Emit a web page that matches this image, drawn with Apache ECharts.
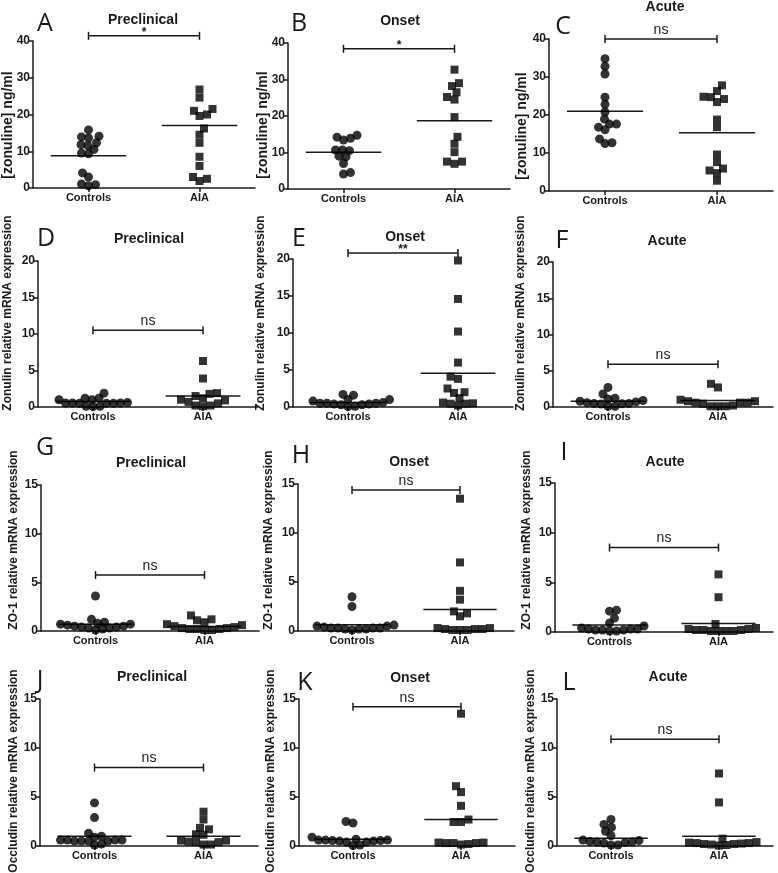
<!DOCTYPE html>
<html>
<head>
<meta charset="utf-8">
<script src="https://cdn.jsdelivr.net/npm/echarts@6/dist/echarts.min.js"></script>
<style>
  html, body { margin: 0; padding: 0; background: #fff; }
  #main { width: 778px; height: 873px; }
</style>
</head>
<body>
<div id="main"></div>
<script>
// groups and panel text
const groups = ['Controls', 'AIA']
const letters = ['A', 'B', 'C', 'D', 'E', 'F', 'G', 'H', 'I', 'J', 'K', 'L']
const stages = ['Preclinical', 'Onset', 'Acute']
const yNames = ['[zonuline] ng/ml', 'Zonulin relative mRNA expression', 'ZO-1 relative mRNA expression', 'Occludin relative mRNA expression']
const yMax = [40, 20, 15, 15]
const yStep = [10, 5, 5, 5]

// values per panel, A..L
const controls = [
  [15.8, 13.9, 13.6, 14.1, 12.3, 11.8, 11.5, 10.5, 9.3, 9.5, 4.1, 3.0, 1.1, 0.6, 0.9],
  [14.7, 13.9, 13.4, 14.2, 10.7, 10.5, 10.7, 8.8, 9.0, 7.0, 4.1, 4.5],
  [34.8, 32.8, 30.8, 24.7, 22.8, 20.8, 18.9, 17.6, 16.8, 16.1, 17.6, 13.7, 12.5, 12.7],
  [1.9, 1.2, 1.2, 1.0, 1.0, 0.6, 0.55, 0.55, 0.55, 0.5, 0.5, 0.5, 0.1, 0.1, 0.05],
  [1.7, 1.6, 1.0, 1.0, 0.8, 0.5, 0.5, 0.5, 0.4, 0.4, 0.3, 0.3, 0.6, 0.1, 0.05],
  [2.7, 1.8, 1.2, 1.1, 0.9, 0.8, 0.7, 0.6, 0.5, 0.5, 0.45, 0.4, 0.1, 0.1],
  [3.6, 1.2, 0.9, 0.8, 0.7, 0.7, 0.6, 0.5, 0.5, 0.4, 0.4, 0.3, 0.3, 0.2, 0.1],
  [3.5, 2.5, 0.6, 0.5, 0.5, 0.4, 0.3, 0.3, 0.3, 0.3, 0.2, 0.2, 0.2, 0.1],
  [2.2, 2.1, 1.4, 0.9, 0.6, 0.4, 0.3, 0.3, 0.3, 0.2, 0.2, 0.2, 0.1, 0.1],
  [4.4, 2.9, 1.3, 1.0, 0.9, 0.6, 0.6, 0.5, 0.5, 0.6, 0.6, 0.5, 0.5, 0.2, 0.1],
  [2.5, 2.35, 0.9, 0.7, 0.6, 0.6, 0.6, 0.55, 0.55, 0.5, 0.5, 0.4, 0.4, 0.1, 0.05],
  [2.7, 2.2, 1.9, 1.5, 1.05, 0.6, 0.55, 0.45, 0.4, 0.35, 0.3, 0.4, 0.1, 0.1]
]
const aia = [
  [26.8, 24.6, 21.0, 21.5, 19.6, 20.0, 16.2, 14.5, 12.3, 8.5, 6.0, 3.0, 1.9, 2.5],
  [32.7, 29.0, 28.2, 26.5, 24.5, 25.2, 19.7, 14.3, 12.4, 10.1, 7.5, 6.9, 7.5],
  [27.8, 26.3, 24.7, 24.2, 24.8, 23.4, 18.8, 16.8, 9.6, 7.6, 5.4, 4.7, 5.9, 2.7],
  [6.3, 3.9, 1.0, 0.7, 1.8, 1.2, 1.5, 1.9, 0.5, 0.9, 0.2, 0.1, 0.2],
  [19.8, 14.6, 10.2, 6.0, 3.8, 4.1, 2.0, 1.9, 2.5, 0.6, 0.45, 0.2, 0.45, 0.5, 1.2],
  [3.2, 2.7, 1.0, 0.8, 0.8, 0.6, 0.6, 0.6, 0.45, 0.2, 0.1, 0.1, 0.1],
  [1.6, 1.2, 1.1, 0.9, 0.7, 0.6, 0.5, 0.4, 0.3, 0.3, 0.2, 0.2, 0.2, 0.1, 0.1],
  [13.5, 7.0, 4.1, 3.2, 2.0, 1.8, 1.5, 0.3, 0.2, 0.2, 0.1, 0.1, 0.1, 0.2, 0.3],
  [5.8, 3.5, 0.8, 0.4, 0.3, 0.3, 0.2, 0.2, 0.2, 0.1, 0.1, 0.1, 0.1],
  [3.5, 2.7, 1.85, 1.7, 1.2, 1.15, 0.55, 0.45, 0.4, 0.15, 0.15, 0.4, 0.55],
  [13.5, 6.1, 5.5, 4.1, 2.7, 2.45, 2.45, 0.35, 0.3, 0.3, 0.15, 0.2, 0.3, 0.35],
  [7.4, 4.45, 0.75, 0.4, 0.35, 0.3, 0.3, 0.25, 0.2, 0.2, 0.15, 0.1, 0.05]
]
const meanControls = [8.8, 10.1, 21.0, 0.77, 0.6, 0.8, 0.7, 0.65, 0.7, 1.0, 0.7, 0.8]
const meanAia = [17.0, 18.7, 15.3, 1.5, 4.55, 0.9, 0.45, 2.2, 0.85, 1.0, 2.7, 1.0]
const sigLabels = ['*', '*', 'ns', 'ns', '**', 'ns', 'ns', 'ns', 'ns', 'ns', 'ns', 'ns']
const sigHeights = [41.4, 38.4, 40, 10.5, 20.8, 5.9, 5.75, 14.4, 8.5, 8.0, 14.2, 10.9]

// layout: [left, top, width, height] of each plot area
const boxes = [
  [33, 41, 222, 147], [288, 43, 222, 146], [549, 39, 224, 152],
  [38, 261, 220, 146], [293, 259, 220, 148], [553, 262, 220, 145],
  [41, 485, 218, 146], [298, 484, 216, 147], [555, 483, 218, 149],
  [40, 699, 218, 147], [299, 699, 216, 147], [557, 699, 216, 147]
]
const letterPos = [[45, 24], [299, 24], [563, 27], [46, 239], [299, 239], [562, 241],
  [45, 448], [301, 456], [564, 453], [40, 681], [305, 683], [569, 683]]
const titlePos = [[143, 20], [400, 21], [665, 7], [149, 239], [405, 237], [667, 241],
  [151, 463], [409, 462], [665, 462], [152, 677], [410, 678], [668, 677]]
const yNamePos = [[8, 125], [263, 125], [522, 126], [8, 313], [261, 313], [521, 313],
  [14, 540], [269, 540], [527, 540], [14, 771], [271, 771], [531, 771]]

const ink = '#1a1a1a'
const dot = '#000'
const font = '"Liberation Sans", Arial, sans-serif'

// spread points sideways so they do not overlap (beeswarm)
function swarm(vals, center, w, h, ymax, d) {
  const ux = w / 2, uy = h / ymax
  const order = vals.map((v, i) => i).sort((a, b) => vals[a] - vals[b])
  const placed = []
  const out = []
  order.forEach((i, k) => {
    const py = vals[i] * uy
    let best = null
    for (let s = 0; s <= 150 && best === null; s += 0.5) {
      const cands = s === 0 ? [0] : (k % 2 ? [s, -s] : [-s, s])
      for (const dx of cands) {
        if (placed.every(p => Math.hypot(p[0] - dx, p[1] - py) >= d)) { best = dx; break }
      }
    }
    placed.push([best, py])
    out[i] = [center + best / ux, vals[i]]
  })
  return out
}

const grid = [], xAxis = [], yAxis = [], series = [], graphic = []

boxes.forEach((b, i) => {
  const row = Math.floor(i / 3)
  grid.push({ left: b[0], top: b[1], width: b[2], height: b[3] })
  xAxis.push({
    gridIndex: i, type: 'value', min: 0, max: 2,
    axisLine: { lineStyle: { color: ink, width: 1.5 } },
    axisTick: { customValues: [0.5, 1.5], length: 4, lineStyle: { color: ink, width: 1.5 } },
    axisLabel: {
      customValues: [0.5, 1.5], formatter: v => (v < 1 ? groups[0] : groups[1]),
      color: ink, fontWeight: 'bold', fontSize: 11, fontFamily: font, margin: 4
    },
    splitLine: { show: false }
  })
  yAxis.push({
    gridIndex: i, type: 'value', min: 0, max: yMax[row], interval: yStep[row],
    axisLine: { show: true, lineStyle: { color: ink, width: 1.5 } },
    axisTick: { show: true, length: 4, lineStyle: { color: ink, width: 1.5 } },
    axisLabel: { color: ink, fontWeight: 'bold', fontSize: 12, fontFamily: font, margin: 3 },
    splitLine: { show: false }
  })

  series.push({
    type: 'scatter', xAxisIndex: i, yAxisIndex: i, clip: false,
    symbol: 'circle', symbolSize: 9, itemStyle: { color: dot },
    data: swarm(controls[i], 0.5, b[2], b[3], yMax[row], 7)
  })
  series.push({
    type: 'scatter', xAxisIndex: i, yAxisIndex: i, clip: false,
    symbol: 'rect', symbolSize: 8, itemStyle: { color: dot },
    data: swarm(aia[i], 1.5, b[2], b[3], yMax[row], 7.5)
  })
  // mean lines
  series.push({
    type: 'custom', xAxisIndex: i, yAxisIndex: i, clip: false,
    data: [[0.5, meanControls[i]], [1.5, meanAia[i]]],
    renderItem: (params, api) => {
      const a = api.coord([api.value(0) - 0.34, api.value(1)])
      const c = api.coord([api.value(0) + 0.34, api.value(1)])
      return { type: 'line', shape: { x1: a[0], y1: a[1], x2: c[0], y2: c[1] }, style: { stroke: ink, lineWidth: 1.5 } }
    }
  })
  // significance bracket
  const star = sigLabels[i] !== 'ns'
  series.push({
    type: 'custom', xAxisIndex: i, yAxisIndex: i, clip: false,
    data: [[0.5, 1.5, sigHeights[i]]],
    encode: { x: [0, 1], y: 2 },
    renderItem: (params, api) => {
      const p = api.coord([api.value(0), api.value(2)])
      const q = api.coord([api.value(1), api.value(2)])
      const st = { stroke: ink, lineWidth: 1.5 }
      return {
        type: 'group', children: [
          { type: 'line', shape: { x1: p[0], y1: p[1], x2: q[0], y2: q[1] }, style: st },
          { type: 'line', shape: { x1: p[0], y1: p[1] - 4, x2: p[0], y2: p[1] + 4 }, style: st },
          { type: 'line', shape: { x1: q[0], y1: q[1] - 4, x2: q[0], y2: q[1] + 4 }, style: st },
          {
            type: 'text', x: (p[0] + q[0]) / 2, y: star ? p[1] - 3 : p[1] - 2,
            style: {
              text: sigLabels[i], fill: ink, font: (star ? 'bold 12px ' : '14px ') + font,
              align: 'center', verticalAlign: star ? 'middle' : 'bottom'
            }
          }
        ]
      }
    }
  })

  graphic.push({
    type: 'text', x: letterPos[i][0], y: letterPos[i][1],
    style: { text: letters[i], fill: ink, font: '25px "Open Sans", sans-serif', align: 'center', verticalAlign: 'middle' }
  })
  graphic.push({
    type: 'text', x: titlePos[i][0], y: titlePos[i][1],
    style: { text: stages[i % 3], fill: ink, font: 'bold 14px ' + font, align: 'center', verticalAlign: 'middle' }
  })
  graphic.push({
    type: 'text', x: yNamePos[i][0], y: yNamePos[i][1], rotation: Math.PI / 2,
    style: { text: yNames[row], fill: ink, font: 'bold ' + (row === 0 ? 14 : 12) + 'px ' + font, align: 'center', verticalAlign: 'middle' }
  })
})

const chart = echarts.init(document.getElementById('main'))
chart.setOption({
  animation: false,
  backgroundColor: '#fff',
  grid, xAxis, yAxis, series, graphic
})
</script>
</body>
</html>
